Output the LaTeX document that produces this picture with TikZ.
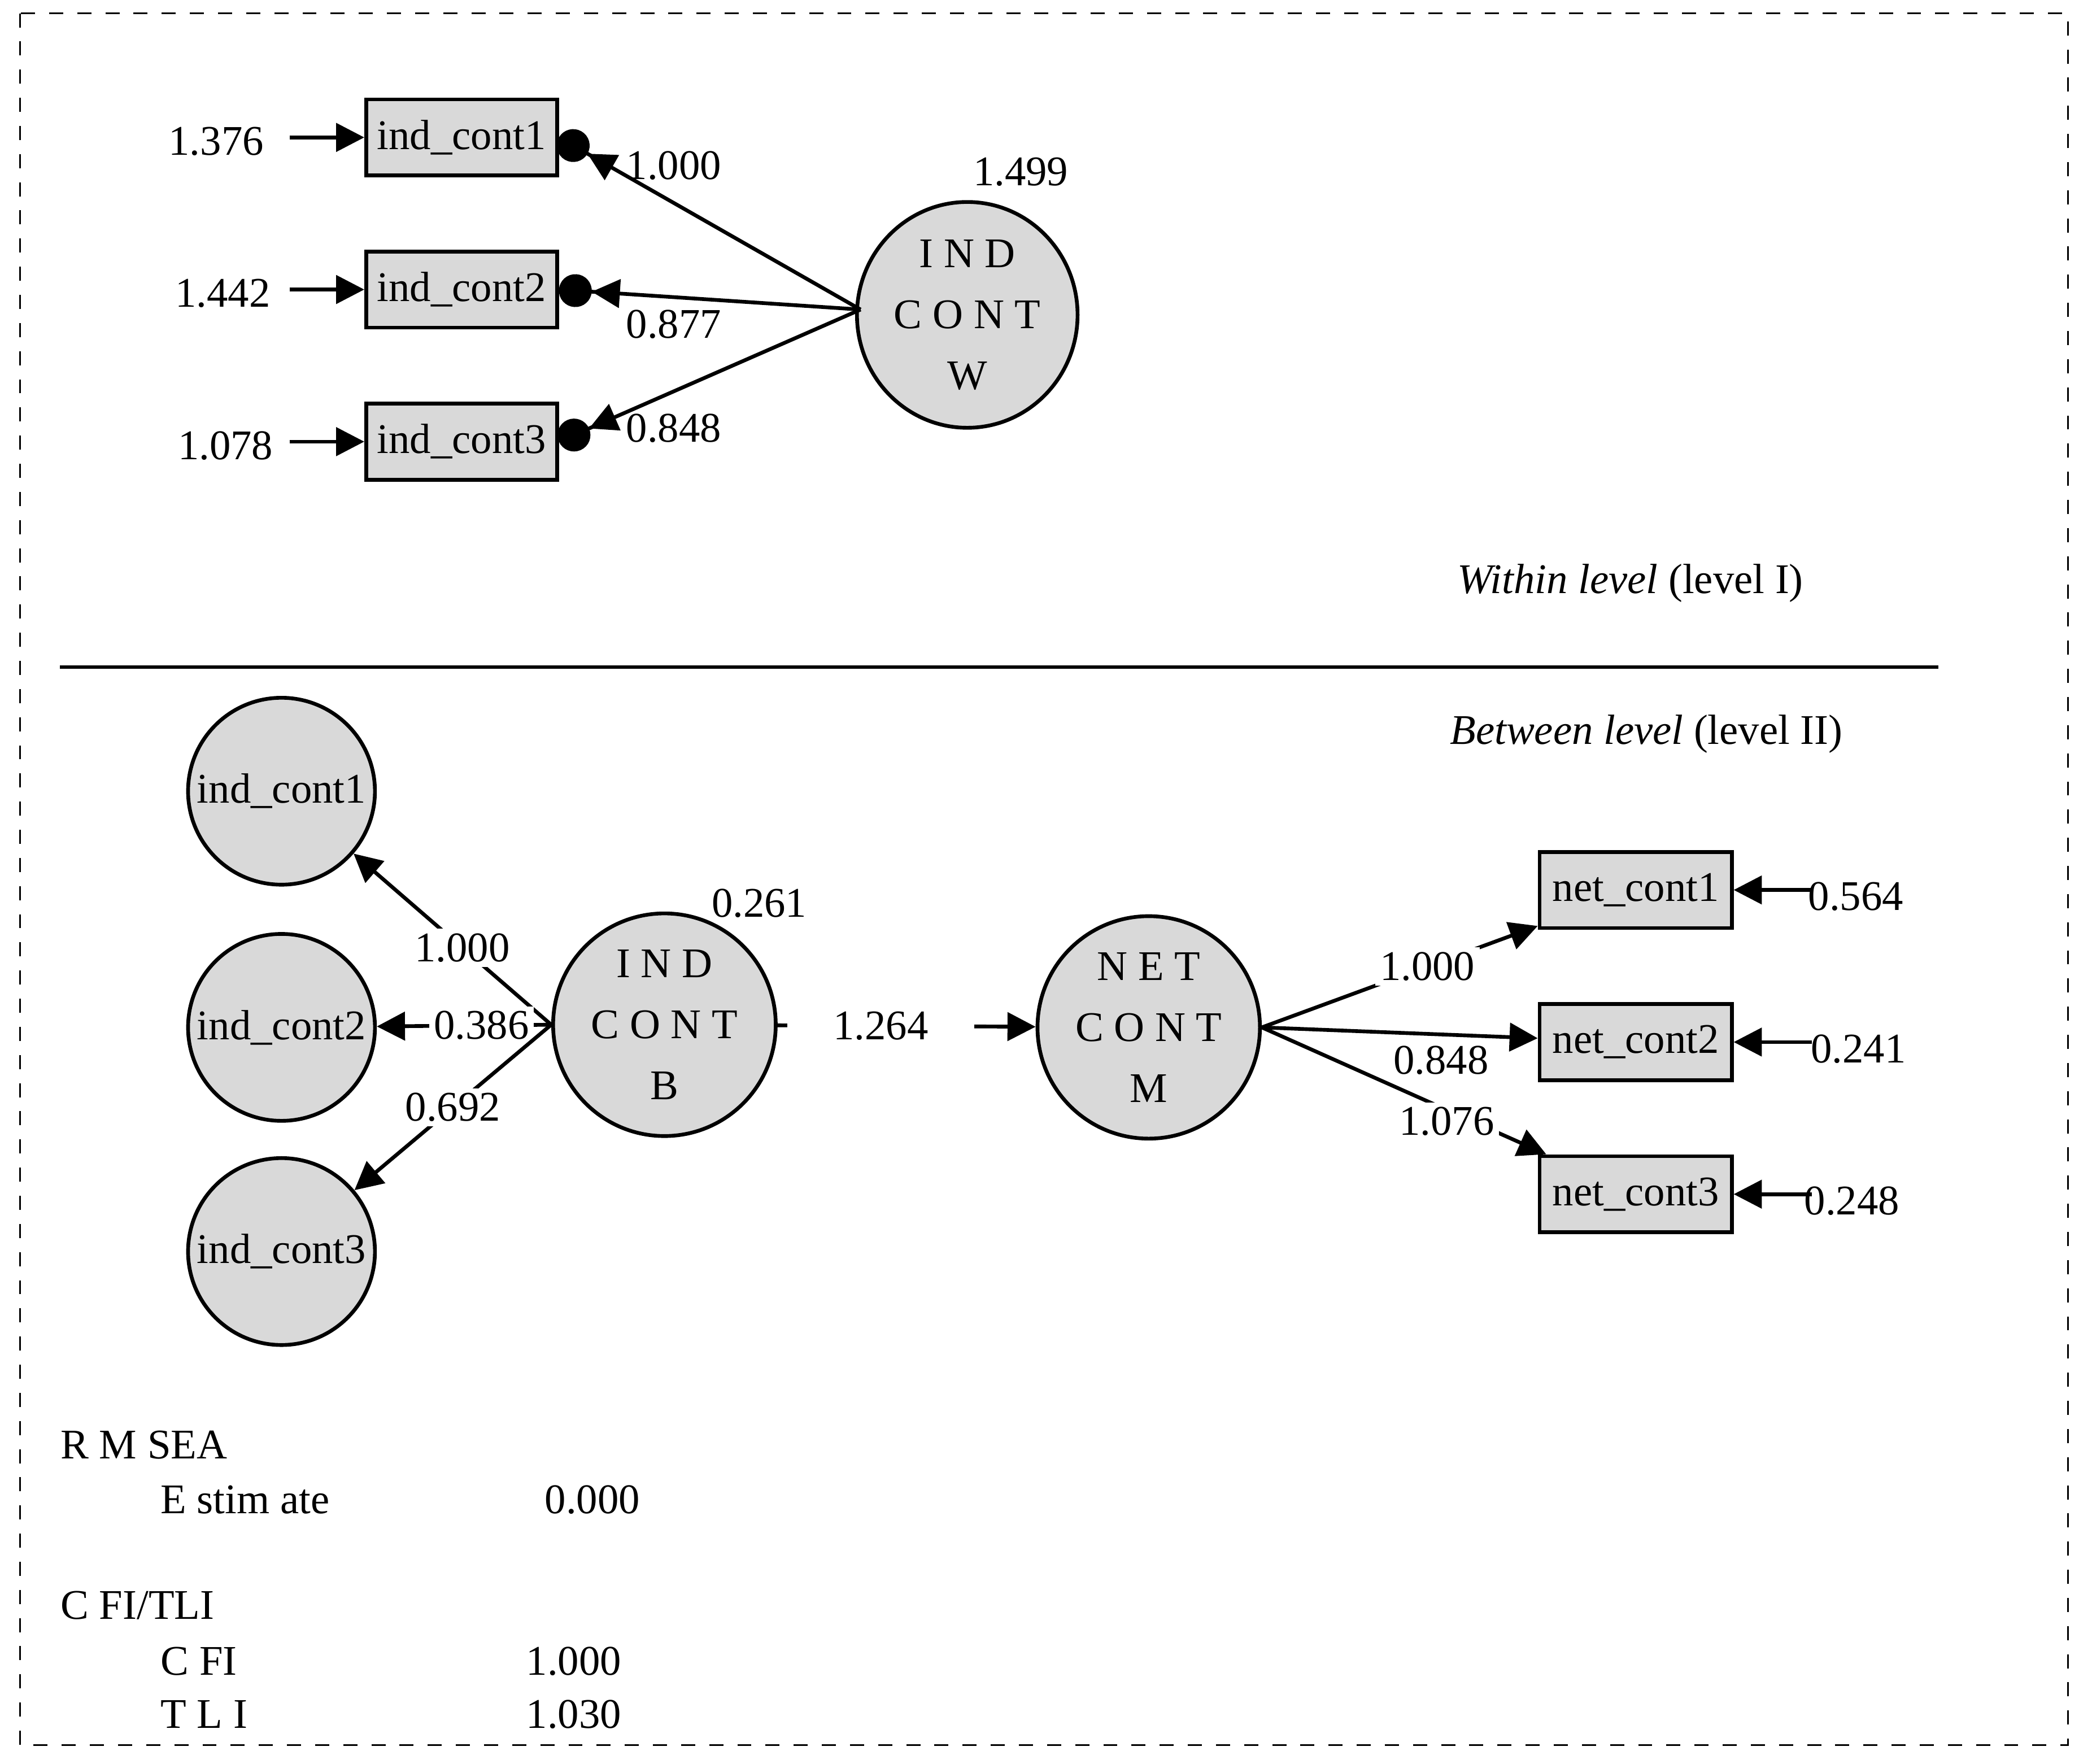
\documentclass[tikz,border=0pt]{standalone}
\usepackage{fontspec}
\setmainfont{Liberation Serif}
\usetikzlibrary{arrows.meta,shapes.geometric}
\begin{document}
\begin{tikzpicture}[x=0.01cm,y=-0.01cm,font=\fontsize{9}{11}\selectfont,
    observed/.style={rectangle,draw,thick,fill=black!15,minimum width=1.43cm,minimum height=0.57cm,inner sep=1pt},
    latent/.style={ellipse,draw,thick,fill=black!15,minimum width=1.43cm,minimum height=1.38cm,align=center,inner sep=1pt},
    path/.style={thick,-{Triangle[length=6pt,width=6pt]}},
    loading/.style={thick,-{Triangle[length=6pt,width=6pt]Circle[length=7pt]}},
    lab/.style={fill=white,inner sep=1pt}]
 \useasboundingbox (0,0) rectangle (1568,1322);
 \draw[dashed] (15,10) rectangle (1550,1308);
 % within level
 \foreach \Y/\V/\X [count=\Z] in {103/1.376/162,217/1.442/167,331/1.078/169}
 {\node[observed] (w-\Z) at (346,\Y) {ind\_cont\Z};
  \node (wr-\Z) at (\X,\Y+3) {\V};
  \coordinate (ws-\Z) at (217,\Y);
  \draw[path] (ws-\Z) -- (w-\Z);}
 \node[latent,minimum width=1.6cm,minimum height=1.54cm] (indw) at (725,236) {I N D\\[2pt]C O N T\\[2pt]W};
 \node at (765,129) {1.499};
 \coordinate (indw-o) at (645,232);
 \foreach \Z in {1,2,3} \draw[loading] (indw-o) -- (w-\Z.east);
 \node at (505,124) {1.000};
 \node at (505,243) {0.877};
 \node at (505,321) {0.848};
 \node at (1222,437) {\textit{Within level} (level I)};
 \coordinate (sep-l) at (45,500);
 \coordinate (sep-r) at (1453,500);
 \draw[thick] (sep-l) -- (sep-r);
 \node at (1234,550) {\textit{Between level} (level II)};
 % between level
 \foreach \Y [count=\Z] in {593,770,938}
  \node[latent,circle,minimum size=1.4cm] (b-\Z) at (211,\Y) {ind\_cont\Z};
 \node[latent,circle,minimum size=1.44cm] (indb) at (498,768) {I N D\\[2pt]C O N T\\[2pt]B};
 \node at (569,677) {0.261};
 \draw[path] (indb.west) -- (b-1) node[lab,pos=0.45] {1.000};
 \draw[path] (indb.west) -- (b-2) node[lab,pos=0.4] {0.386};
 \draw[path] (indb.west) -- (b-3) node[lab,pos=0.5] {0.692};
 \node[latent,circle,minimum size=1.44cm] (netm) at (861,770) {N E T\\[2pt]C O N T\\[2pt]M};
 \draw[path] (indb) -- (netm) node[lab,pos=0.4,minimum width=1.4cm] {1.264};
 \foreach \Y/\V/\X [count=\Z] in {667/0.564/1391,781/0.241/1393,895/0.248/1388}
 {\node[observed,minimum width=1.44cm] (n-\Z) at (1226,\Y) {net\_cont\Z};
  \node (nr-\Z) at (\X,\Y+5) {\V};
  \coordinate (ns-\Z) at (1358,\Y);
  \draw[path] (ns-\Z) -- (n-\Z);}
 \draw[path] (netm.east) -- (n-1) node[lab,pos=0.6] {1.000};
 \draw[path] (netm.east) -- (n-2) node[lab,pos=0.65,below=1pt] {0.848};
 \draw[path] (netm.east) -- (n-3) node[lab,pos=0.65,below=-2pt] {1.076};
 % fit indices
 \node[anchor=west] at (33,1083) {R M SEA};
 \node[anchor=west] at (108,1124) {E stim ate};
 \node at (444,1124) {0.000};
 \node[anchor=west] at (33,1203) {C FI/TLI};
 \node[anchor=west] at (108,1245) {C FI};
 \node at (430,1245) {1.000};
 \node[anchor=west] at (108,1285) {T L I};
 \node at (430,1285) {1.030};
\end{tikzpicture}
\end{document}
